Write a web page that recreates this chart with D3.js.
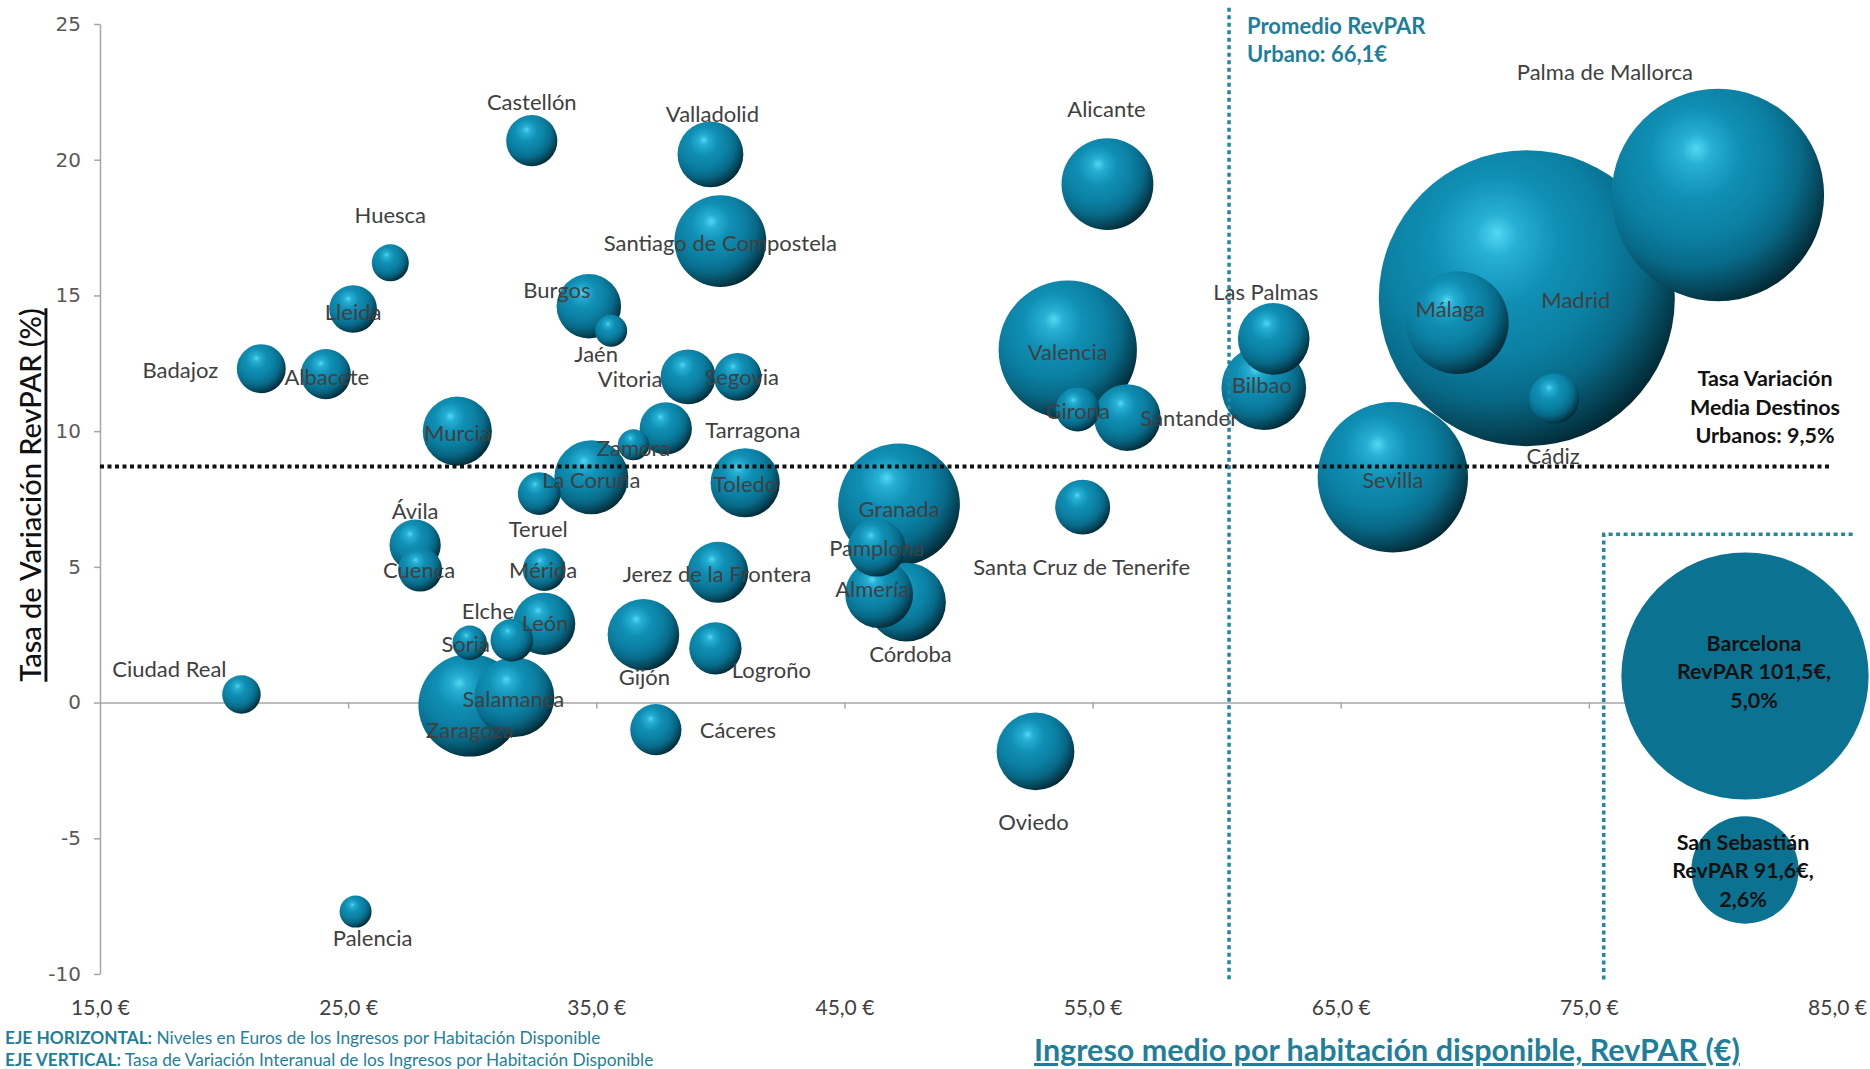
<!DOCTYPE html>
<html><head><meta charset="utf-8">
<script src="https://cdn.jsdelivr.net/npm/d3@7"></script>
<style>body{margin:0;background:#fff;overflow:hidden} svg{display:block}</style>
</head><body><svg id="chart" width="1870" height="1069"></svg>
<script>
// ---------- DATA ----------
const cities = ["Castellón","Valladolid","Huesca","Lleida","Badajoz","Albacete","Santiago de Compostela","Burgos","Jaén","Vitoria","Segovia","Murcia","Zamora","Tarragona","La Coruña","Teruel","Toledo","Ávila","Cuenca","Mérida","León","Elche","Soria","Zaragoza","Salamanca","Ciudad Real","Palencia","Jerez de la Frontera","Gijón","Logroño","Cáceres","Granada","Pamplona","Almería","Córdoba","Oviedo","Alicante","Valencia","Girona","Santander","Santa Cruz de Tenerife","Las Palmas","Bilbao","Sevilla","Málaga","Madrid","Cádiz","Palma de Mallorca"];
const revpar = [32.4,39.6,26.7,25.2,21.5,24.1,40.0,34.7,35.6,38.7,40.7,29.4,36.5,37.8,34.8,32.7,41.0,27.7,27.9,32.9,32.9,31.6,29.9,29.9,31.7,20.7,25.3,39.9,36.9,39.8,37.4,47.2,46.3,46.4,47.5,52.7,55.6,54.0,54.4,56.4,54.6,62.3,61.9,67.1,69.7,72.5,73.6,80.2];
const rateVar = [20.7,20.2,16.2,14.5,12.3,12.1,17.0,14.6,13.7,12.0,12.0,10.0,9.5,10.1,8.3,7.7,8.1,5.8,4.9,4.9,2.9,2.3,2.2,-0.1,0.2,0.3,-7.7,4.8,2.5,2.0,-1.0,7.3,5.7,4.0,3.7,-1.8,19.1,13.0,10.8,10.5,7.2,13.4,11.6,8.3,14.0,14.9,11.2,18.7];
const sizes = [46,76,24,40,42,44,148,73,18,53,40,84,17,48,96,32,84,46,34,32,68,32,21,185,112,26,18,65,90,48,46,260,58,81,109,106,148,336,34,78,53,90,126,397,185,1538,44,792];

const insetCities = ["Barcelona","San Sebastián"];
const insetRevpar = [101.5, 91.6];
const insetRate = [5.0, 2.6];
const insetSizes = [1073, 202];

const xTicks = [15,25,35,45,55,65,75,85];
const yTicks = [-10,-5,0,5,10,15,20,25];

const avgRevparLabel = 66.1;   // text value
const avgRateLabel = 9.5;      // text value
const avgRevparLine = 60.5;    // where the line is drawn on the chart
const avgRateLine = 8.7;

// ---------- LAYOUT (label placement, px offsets from bubble centre) ----------
const labelOffsets = {
 "Castellón":[0,-39],"Valladolid":[2,-41],"Huesca":[0,-48],"Lleida":[0,2],"Badajoz":[-81,1],"Albacete":[1,2],
 "Santiago de Compostela":[0,1],"Burgos":[-32,-17],"Jaén":[-15,23],"Vitoria":[-58,2],"Segovia":[4,0],"Murcia":[0,1],
 "Zamora":[0,3],"Tarragona":[87,1],"La Coruña":[0,2],"Teruel":[-1,35],"Toledo":[0,1],"Ávila":[0,-35],"Cuenca":[-1,0],
 "Mérida":[-1,0],"León":[1,-1],"Elche":[-24,-30],"Soria":[-4,1],"Zaragoza":[0,24],"Salamanca":[-1,1],"Ciudad Real":[-72,-26],
 "Palencia":[17,26],"Jerez de la Frontera":[-1,1],"Gijón":[1,42],"Logroño":[56,21],"Cáceres":[82,0],"Granada":[0,4],
 "Pamplona":[0,0],"Almería":[-7,-6],"Córdoba":[4,51],"Oviedo":[-2,70],"Alicante":[-1,-76],"Valencia":[0,2],"Girona":[0,1],
 "Santander":[62,0],"Santa Cruz de Tenerife":[-1,59],"Las Palmas":[-8,-47],"Bilbao":[-2,-3],"Sevilla":[0,2],"Málaga":[-7,-14],
 "Madrid":[49,1],"Cádiz":[-1,57],"Palma de Mallorca":[-113,-124]
};

// ---------- CHART ----------
const svg = d3.select('#chart');
const x = d3.scaleLinear().domain([15,85]).range([100,1837]);
const y = d3.scaleLinear().domain([-10,25]).range([974,24]);
const r = d3.scaleSqrt().domain([0, d3.max(sizes)]).range([0,148]);
const comma = (v,d) => v.toFixed(d).replace('.',',');

const defs = svg.append('defs');
const g = defs.append('radialGradient').attr('id','bub')
  .attr('cx',0.38).attr('cy',0.36).attr('r',0.72).attr('fx',0.4).attr('fy',0.28);
[[0,'#52d8f3'],[0.1,'#27afd4'],[0.3,'#108fb4'],[0.52,'#0b80a3'],[0.7,'#086987'],[0.84,'#05465a'],[0.94,'#022a36'],[1,'#01171e']]
 .forEach(([o,c])=>g.append('stop').attr('offset',o).attr('stop-color',c));

const teal = '#1f7f9b';
const LABEL_FONT = 'Lato, "Open Sans", sans-serif';

// Y axis
const yAxis = svg.append('g').attr('transform',`translate(${x(15)},0)`)
  .call(d3.axisLeft(y).tickValues(yTicks).tickSize(6).tickSizeOuter(0).tickPadding(13).tickFormat(d=>String(d)));
yAxis.select('.domain').attr('stroke','#a6a6a6').attr('stroke-width',1.5);
yAxis.selectAll('.tick line').attr('stroke','#a6a6a6').attr('stroke-width',1.5);
yAxis.selectAll('.tick text').attr('fill','#595959').style('font-family','"DejaVu Sans", Verdana, sans-serif').style('font-size','20px');

// X axis line at y=0
const xAxis = svg.append('g').attr('transform',`translate(0,${y(0)})`)
  .call(d3.axisBottom(x).tickValues(xTicks.slice(1)).tickSize(6).tickSizeOuter(0).tickFormat(''));
xAxis.select('.domain').attr('stroke','#a6a6a6').attr('stroke-width',1.5);
xAxis.selectAll('.tick line').attr('stroke','#a6a6a6').attr('stroke-width',1.5);

// X tick labels at the bottom
const xLab = svg.append('g').attr('transform',`translate(0,1000)`)
  .call(d3.axisBottom(x).tickValues(xTicks).tickSize(0).tickPadding(0).tickFormat(d=>comma(d,1)+' €'));
xLab.select('.domain').remove();
xLab.selectAll('text').attr('fill','#404040').style('font-family',LABEL_FONT).style('font-size','21px');

// Bubbles
const pts = cities.map((c,i)=>({name:c, rv:revpar[i], rt:rateVar[i], s:sizes[i]}));
const order = pts.slice().sort((a,b)=>b.s-a.s);
svg.append('g').selectAll('circle').data(order).join('circle')
  .attr('cx',d=>x(d.rv)).attr('cy',d=>y(d.rt)).attr('r',d=>r(d.s))
  .attr('fill','url(#bub)');

// Reference lines
svg.append('line').attr('x1',x(15)).attr('x2',x(84.8)).attr('y1',y(avgRateLine)).attr('y2',y(avgRateLine))
  .attr('stroke','#111').attr('stroke-width',4).attr('stroke-dasharray','4 3.5');
svg.append('line').attr('x1',x(avgRevparLine)).attr('x2',x(avgRevparLine)).attr('y1',y(25.6)).attr('y2',y(-10.2))
  .attr('stroke','#2187a3').attr('stroke-width',3.5).attr('stroke-dasharray','4 3.5');
// inset frame
svg.append('path')
  .attr('d',`M${x(75.6)},${y(-10.2)} L${x(75.6)},${y(6.2)} L${x(85.7)},${y(6.2)}`)
  .attr('fill','none').attr('stroke','#2187a3').attr('stroke-width',3.5).attr('stroke-dasharray','4 3.5');

// City labels
svg.append('g').selectAll('text').data(pts).join('text')
  .attr('x',d=>x(d.rv)+labelOffsets[d.name][0]).attr('y',d=>y(d.rt)+labelOffsets[d.name][1])
  .attr('text-anchor','middle').attr('dominant-baseline','central')
  .attr('fill','#404040').style('font-family',LABEL_FONT).style('font-size','22px')
  .text(d=>d.name);

// Inset bubbles (values beyond the axis range)
const insetX = 1745;
const insetY = d3.scalePoint().domain(insetCities).range([676,870]);
const insetTextShift = {"Barcelona":[9,-5],"San Sebastián":[-2,0]};
const ins = insetCities.map((c,i)=>({name:c, rv:insetRevpar[i], rt:insetRate[i], s:insetSizes[i]}));
svg.append('g').selectAll('circle').data(ins).join('circle')
  .attr('cx',insetX).attr('cy',d=>insetY(d.name)).attr('r',d=>r(d.s)).attr('fill','#0b7391');
ins.forEach(d=>{
  const lines=[d.name, 'RevPAR '+comma(d.rv,1)+'€,', comma(d.rt,1)+'%'];
  const [sx,sy]=insetTextShift[d.name];
  svg.append('text').attr('text-anchor','middle').attr('fill','#111')
    .style('font-family',LABEL_FONT).style('font-size','21.5px').style('font-weight','700')
    .selectAll('tspan').data(lines).join('tspan')
    .attr('x',insetX+sx).attr('y',(l,i)=>insetY(d.name)+sy+(i-1)*28.5).attr('dominant-baseline','central')
    .text(l=>l);
});

// Annotations
const promedio = svg.append('text').attr('fill',teal).style('font-family',LABEL_FONT)
  .style('font-size','22px').style('font-weight','700');
promedio.append('tspan').attr('x',1247).attr('y',25).attr('dominant-baseline','central').text('Promedio RevPAR');
promedio.append('tspan').attr('x',1247).attr('y',53).attr('dominant-baseline','central').text('Urbano: '+comma(avgRevparLabel,1)+'€');

const tasa = svg.append('text').attr('fill','#111').attr('text-anchor','middle').style('font-family',LABEL_FONT)
  .style('font-size','21.5px').style('font-weight','700');
['Tasa Variación','Media Destinos','Urbanos: '+comma(avgRateLabel,1)+'%'].forEach((t,i)=>
  tasa.append('tspan').attr('x',1765).attr('y',378+i*28.5).attr('dominant-baseline','central').text(t));

// Axis titles
svg.append('text').attr('transform','translate(29,495) rotate(-90)').attr('text-anchor','middle')
  .attr('dominant-baseline','central').attr('fill','#111')
  .style('font-family',LABEL_FONT).style('font-size','29px').style('font-weight','500').style('text-decoration','underline')
  .text('Tasa de Variación RevPAR (%)');
svg.append('text').attr('x',1387).attr('y',1061).attr('text-anchor','middle')
  .attr('fill',teal).style('font-family',LABEL_FONT).style('font-size','30.5px').style('font-weight','700')
  .style('text-decoration','underline')
  .text('Ingreso medio por habitación disponible, RevPAR (€)');

const n1 = svg.append('text').attr('x',5).attr('y',1037).attr('dominant-baseline','central')
  .attr('fill',teal).style('font-family',LABEL_FONT).style('font-size','17.3px');
n1.append('tspan').style('font-weight','700').text('EJE HORIZONTAL:');
n1.append('tspan').text(' Niveles en Euros de los Ingresos por Habitación Disponible');
const n2 = svg.append('text').attr('x',5).attr('y',1059).attr('dominant-baseline','central')
  .attr('fill',teal).style('font-family',LABEL_FONT).style('font-size','17.3px');
n2.append('tspan').style('font-weight','700').text('EJE VERTICAL:');
n2.append('tspan').text(' Tasa de Variación Interanual de los Ingresos por Habitación Disponible');
</script>
</body></html>
